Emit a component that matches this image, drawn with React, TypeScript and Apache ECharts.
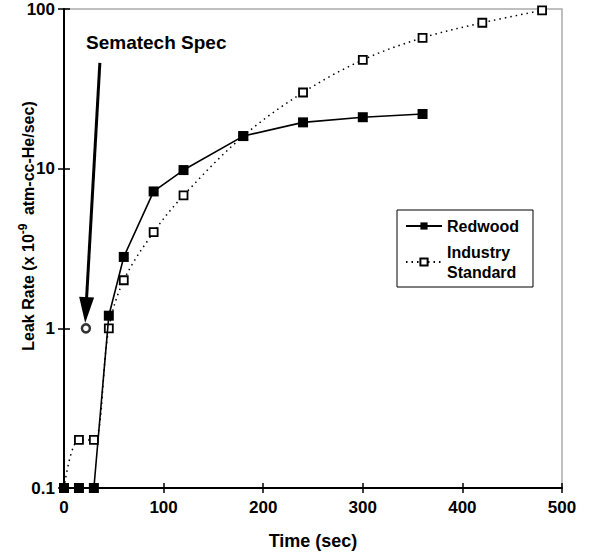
import React, { useEffect, useRef } from "react";
import * as echarts from "echarts";

// Time (sec) for each measurement
const redwoodTime = [0, 15, 30, 45, 60, 90, 120, 180, 240, 300, 360];
// Leak rate (x 10^-9 atm-cc-He/sec)
const redwoodLeak = [0.1, 0.1, 0.1, 1.2, 2.8, 7.2, 9.8, 16, 19.5, 21, 22];

const industryTime = [0, 15, 30, 45, 60, 90, 120, 180, 240, 300, 360, 420, 480];
const industryLeak = [0.1, 0.2, 0.2, 1.0, 2.0, 4.0, 6.8, 16, 30, 48, 66, 82, 98];

// Sematech specification point
const specPoint = [22, 1];
// Arrow from the label down to the spec point
const arrowStart = [36, 46];
const arrowEnd = [22, 1.3];

const xTicks = [0, 100, 200, 300, 400, 500];
const yTicks = [0.1, 1, 10, 100];

const FONT = "'Liberation Sans', Arial, sans-serif";

export default function App() {
  const ref = useRef<HTMLDivElement>(null);
  useEffect(() => {
    if (!ref.current) return;
    const chart = echarts.init(ref.current, null, { renderer: "svg" });
    const zip = (a: number[], b: number[]) => a.map((v, i) => [v, b[i]]);
    const axisTextStyle = { color: "#000", fontFamily: FONT, fontWeight: "bold", fontSize: 17 };
    const baseX = {
      type: "value",
      min: xTicks[0],
      max: xTicks[xTicks.length - 1],
      interval: 100,
      splitLine: { show: false },
    };
    const baseY = {
      type: "log",
      logBase: 10,
      min: yTicks[0],
      max: yTicks[yTicks.length - 1],
      splitLine: { show: false },
    };
    chart.setOption({
      animation: false,
      backgroundColor: "#fff",
      grid: {
        left: 64,
        right: 28,
        top: 9,
        bottom: 64,
        containLabel: false,
        outerBoundsMode: "none",
        show: true,
        borderColor: "#aaa",
        borderWidth: 1.5,
      },
      xAxis: [
        {
          ...baseX,
          axisLine: { onZero: false, lineStyle: { color: "#000", width: 2 } },
          axisTick: { inside: false, length: 5, lineStyle: { color: "#000", width: 1.5 } },
          axisLabel: { ...axisTextStyle, margin: 11 },
          name: "Time (sec)",
          nameLocation: "middle",
          nameGap: 44,
          nameTextStyle: { ...axisTextStyle, fontSize: 18 },
        },
        {
          ...baseX,
          position: "bottom",
          axisLine: { show: false },
          axisTick: { inside: true, length: 5, lineStyle: { color: "#000", width: 1.5 } },
          axisLabel: { show: false },
        },
      ],
      yAxis: [
        {
          ...baseY,
          axisLine: { onZero: false, lineStyle: { color: "#000", width: 2 } },
          axisTick: { inside: false, length: 6, lineStyle: { color: "#000", width: 1.5 } },
          axisLabel: {
            ...axisTextStyle,
            margin: 9,
            formatter: (v: number) => String(Number(v.toPrecision(3))),
          },
        },
        {
          ...baseY,
          position: "left",
          axisLine: { show: false },
          axisTick: { inside: true, length: 6, lineStyle: { color: "#000", width: 1.5 } },
          axisLabel: { show: false },
        },
      ],
      legend: {
        orient: "vertical",
        left: 397,
        top: 210,
        padding: [6, 14, 5, 8],
        itemGap: 6,
        itemWidth: 36,
        itemHeight: 9,
        borderColor: "#000",
        borderWidth: 1,
        backgroundColor: "#fff",
        textStyle: { color: "#000", fontFamily: FONT, fontWeight: "bold", fontSize: 16, lineHeight: 20 },
        data: [{ name: "Redwood" }, { name: "Industry\nStandard" }],
      },
      series: [
        {
          name: "Industry\nStandard",
          type: "line",
          smooth: 0.35,
          data: zip(industryTime, industryLeak),
          symbol: "rect",
          symbolSize: 8,
          lineStyle: { color: "#000", width: 1.5, type: [1.5, 4] },
          itemStyle: { color: "#fff", borderColor: "#000", borderWidth: 1.8 },
          z: 2,
        },
        {
          name: "Redwood",
          type: "line",
          data: zip(redwoodTime, redwoodLeak),
          symbol: "rect",
          symbolSize: 10,
          lineStyle: { color: "#000", width: 1.6 },
          itemStyle: { color: "#000", borderColor: "#000", borderWidth: 0 },
          z: 3,
        },
        {
          name: "Sematech Spec",
          type: "scatter",
          data: [specPoint],
          symbol: "circle",
          symbolSize: 8,
          itemStyle: { color: "#fff", borderColor: "#000", borderWidth: 2.5 },
          z: 4,
          markLine: {
            silent: true,
            symbol: ["none", "triangle"],
            symbolSize: [15, 26],
            lineStyle: { color: "#000", width: 3, type: "solid" },
            label: { show: false },
            data: [[{ coord: arrowStart }, { coord: arrowEnd }]],
          },
        },
      ],
      graphic: [
        {
          type: "text",
          left: 86,
          top: 33,
          style: {
            text: "Sematech Spec",
            fill: "#000",
            font: `bold 19px ${FONT}`,
          },
        },
        {
          type: "text",
          x: 28,
          y: 226,
          rotation: Math.PI / 2,
          style: {
            text: "{a|Leak Rate (x 10}{s|-9}{a| atm-cc-He/sec)}",
            align: "center",
            verticalAlign: "middle",
            fill: "#000",
            rich: {
              a: { fontFamily: FONT, fontWeight: "bold", fontSize: 16, fill: "#000", lineHeight: 22 },
              s: {
                fontFamily: FONT,
                fontWeight: "bold",
                fontSize: 12,
                fill: "#000",
                verticalAlign: "top",
                lineHeight: 22,
                padding: [0, 4, 10, 0],
              },
            },
          },
        },
      ],
    });
    return () => chart.dispose();
  }, []);
  return (
    <div
      ref={ref}
      style={{ position: "absolute", left: 0, top: 0, width: 590, height: 552 }}
    />
  );
}
